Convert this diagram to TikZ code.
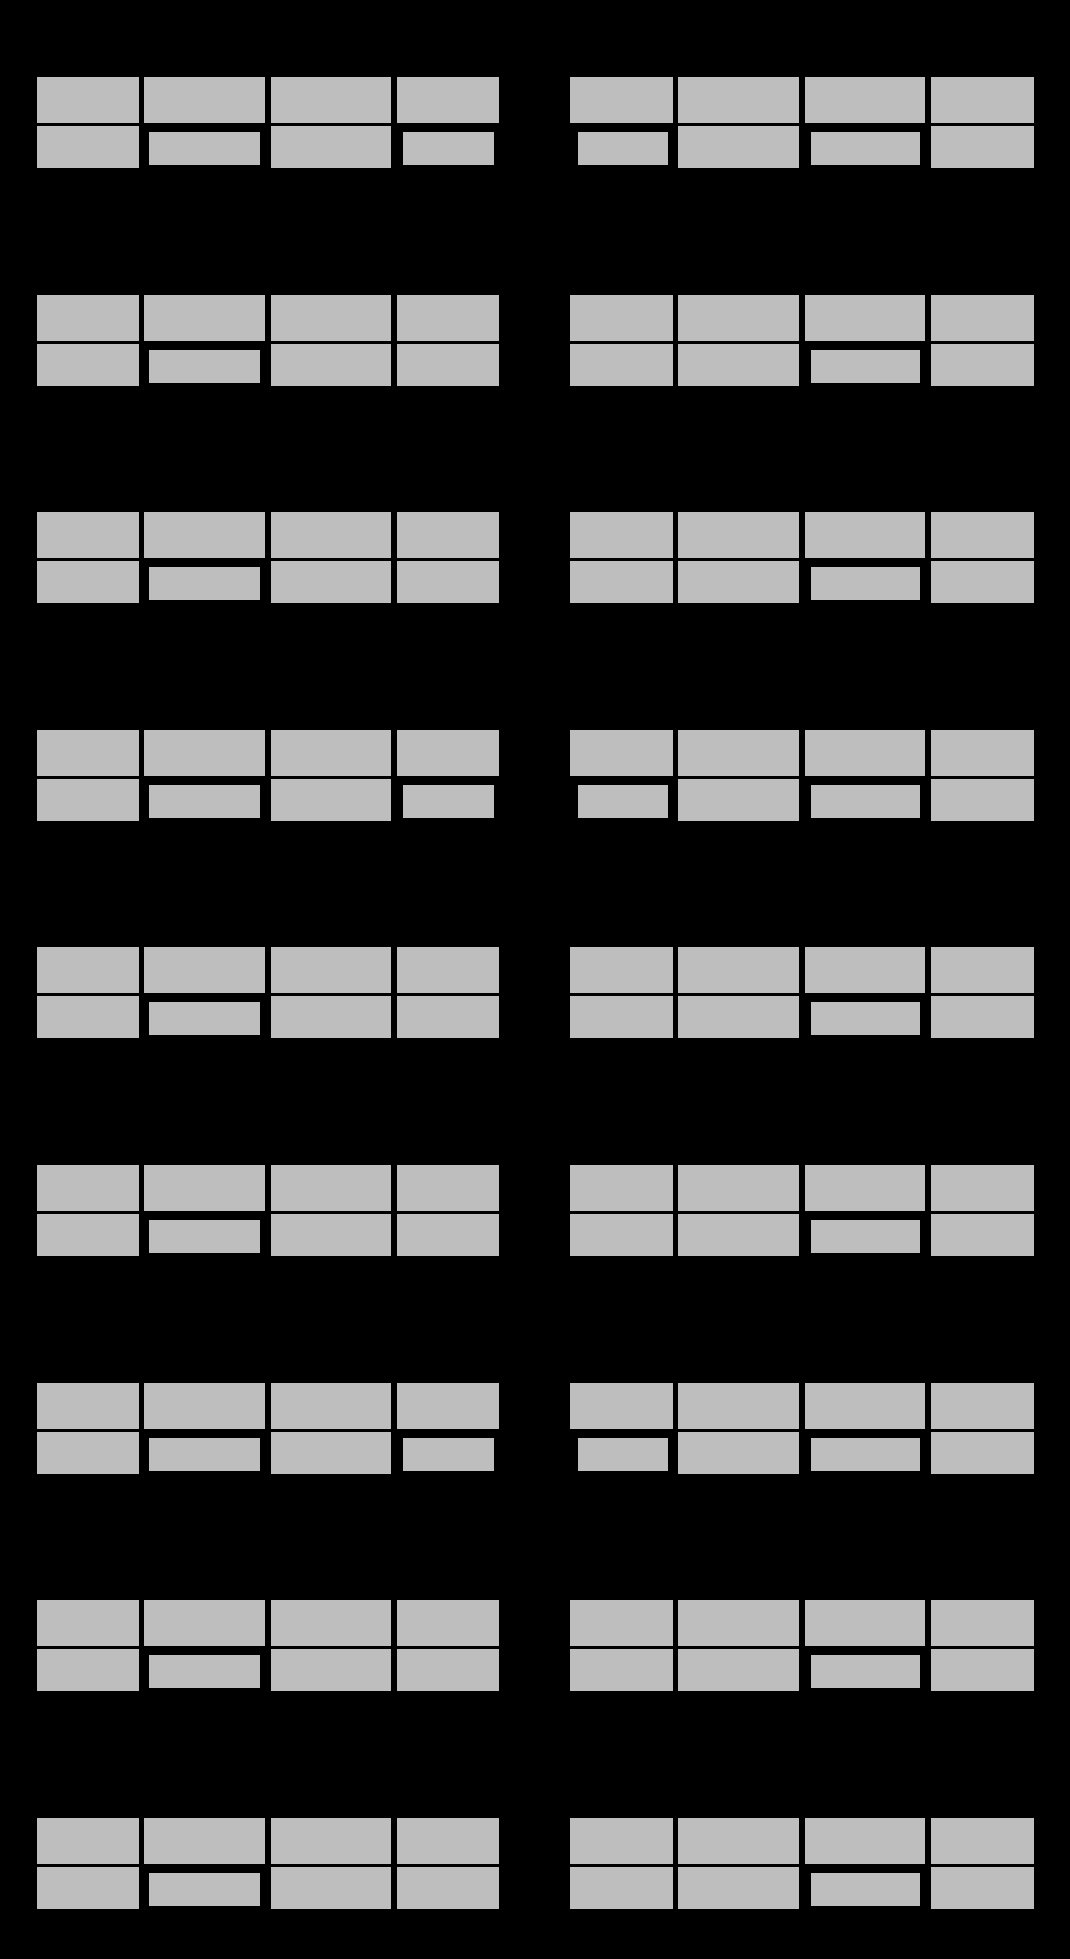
\documentclass[tikz,border=0pt]{standalone}
\definecolor{boxgray}{RGB}{190,190,190}
\begin{document}
\begin{tikzpicture}[x=1pt,y=-1pt,
  cell/.style={fill=boxgray, draw=none, inner sep=0pt, outer sep=0pt, anchor=north west}]
\fill[black] (0,0) rectangle (1070,1959);
\useasboundingbox (0,0) rectangle (1070,1959);
\foreach \g in {1,...,9}{
  \pgfmathsetmacro\yo{77+(\g-1)*217.6}
  \pgfmathtruncatemacro\extra{mod(\g-1,3)==0 ? 1 : 0}
  % first row: all full cells
  \foreach \c/\x/\w in {1/37/102,2/144/121,3/271/120,4/397/102,5/570/103,6/678/121,7/805/120,8/931/103}{
    \node[cell, minimum width=\w pt, minimum height=46pt] (a-\g-\c) at (\x,\yo) {};
  }
  % second row
  \node[cell, minimum width=102pt, minimum height=42pt] (b-\g-1) at (37,\yo+49) {};
  \node[cell, minimum width=111pt, minimum height=33pt] (b-\g-2) at (149,\yo+55) {};
  \node[cell, minimum width=120pt, minimum height=42pt] (b-\g-3) at (271,\yo+49) {};
  \ifnum\extra=1
    \node[cell, minimum width=91pt, minimum height=33pt] (b-\g-4) at (403,\yo+55) {};
    \node[cell, minimum width=90pt, minimum height=33pt] (b-\g-5) at (578,\yo+55) {};
  \else
    \node[cell, minimum width=102pt, minimum height=42pt] (b-\g-4) at (397,\yo+49) {};
    \node[cell, minimum width=103pt, minimum height=42pt] (b-\g-5) at (570,\yo+49) {};
  \fi
  \node[cell, minimum width=121pt, minimum height=42pt] (b-\g-6) at (678,\yo+49) {};
  \node[cell, minimum width=109pt, minimum height=33pt] (b-\g-7) at (811,\yo+55) {};
  \node[cell, minimum width=103pt, minimum height=42pt] (b-\g-8) at (931,\yo+49) {};
}
\end{tikzpicture}
\end{document}
